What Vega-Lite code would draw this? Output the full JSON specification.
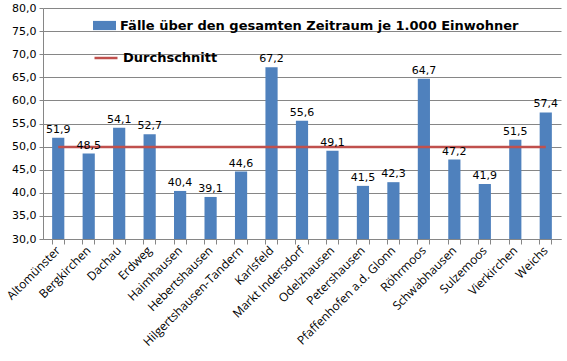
{
  "$schema": "https://vega.github.io/schema/vega-lite/v6.json",
  "width": 518,
  "height": 231,
  "autosize": "none",
  "padding": {"left": 43, "top": 8, "right": 6, "bottom": 122},
  "background": "white",
  "config": {
    "view": {"stroke": null},
    "locale": {"number": {"decimal": ",", "thousands": ".", "grouping": [3], "currency": ["", " €"]}},
    "axis": {"domainColor": "#868686", "tickColor": "#868686", "gridColor": "#868686", "labelColor": "black"}
  },
  "data": {
    "values": [
      {"Gemeinde": "Altomünster", "Faelle": 51.9, "Durchschnitt": 49.9},
      {"Gemeinde": "Bergkirchen", "Faelle": 48.5, "Durchschnitt": 49.9},
      {"Gemeinde": "Dachau", "Faelle": 54.1, "Durchschnitt": 49.9},
      {"Gemeinde": "Erdweg", "Faelle": 52.7, "Durchschnitt": 49.9},
      {"Gemeinde": "Haimhausen", "Faelle": 40.4, "Durchschnitt": 49.9},
      {"Gemeinde": "Hebertshausen", "Faelle": 39.1, "Durchschnitt": 49.9},
      {"Gemeinde": "Hilgertshausen-Tandern", "Faelle": 44.6, "Durchschnitt": 49.9},
      {"Gemeinde": "Karlsfeld", "Faelle": 67.2, "Durchschnitt": 49.9},
      {"Gemeinde": "Markt Indersdorf", "Faelle": 55.6, "Durchschnitt": 49.9},
      {"Gemeinde": "Odelzhausen", "Faelle": 49.1, "Durchschnitt": 49.9},
      {"Gemeinde": "Petershausen", "Faelle": 41.5, "Durchschnitt": 49.9},
      {"Gemeinde": "Pfaffenhofen a.d. Glonn", "Faelle": 42.3, "Durchschnitt": 49.9},
      {"Gemeinde": "Röhrmoos", "Faelle": 64.7, "Durchschnitt": 49.9},
      {"Gemeinde": "Schwabhausen", "Faelle": 47.2, "Durchschnitt": 49.9},
      {"Gemeinde": "Sulzemoos", "Faelle": 41.9, "Durchschnitt": 49.9},
      {"Gemeinde": "Vierkirchen", "Faelle": 51.5, "Durchschnitt": 49.9},
      {"Gemeinde": "Weichs", "Faelle": 57.4, "Durchschnitt": 49.9}
    ]
  },
  "resolve": {"axis": {"x": "independent"}},
  "layer": [
    {
      "mark": {"type": "bar"},
      "encoding": {
        "x": {
          "field": "Gemeinde", "type": "nominal", "sort": null,
          "scale": {"paddingInner": 0.6, "paddingOuter": 0.3},
          "axis": {"orient": "bottom", "title": null, "labelAngle": -45, "labelAlign": "right", "labelBaseline": "middle", "labelPadding": 9, "ticks": false, "labelFont": "Open Sans", "labelFontSize": 12, "labelLimit": 0, "labelOverlap": false}
        },
        "y": {
          "field": "Faelle", "type": "quantitative",
          "scale": {"domain": [30, 80], "nice": false, "zero": false},
          "axis": {"values": [30, 35, 40, 45, 50, 55, 60, 65, 70, 75, 80], "tickCount": 11, "format": ".1f", "labelFont": "DejaVu Sans", "labelFontSize": 11, "tickSize": 4, "labelPadding": 3, "grid": true, "labelOverlap": false, "title": null}
        },
        "y2": {"datum": 30},
        "fill": {
          "datum": "Fälle über den gesamten Zeitraum je 1.000 Einwohner",
          "scale": {"range": ["#4F81BD"]},
          "legend": {"orient": "none", "legendX": 50, "legendY": 6, "title": null, "symbolType": "M-1,-0.4H1V0.4H-1Z", "symbolSize": 529, "symbolStrokeWidth": 0, "labelFont": "DejaVu Sans", "labelFontWeight": "bold", "labelFontSize": 13, "labelLimit": 0, "labelOffset": 4, "padding": 0}
        }
      }
    },
    {
      "mark": {"type": "line", "strokeWidth": 2.5},
      "encoding": {
        "x": {
          "field": "Gemeinde", "type": "nominal", "sort": null,
          "axis": {"orient": "bottom", "title": null, "labels": false, "domain": false, "ticks": true, "bandPosition": 0, "tickSize": 5}
        },
        "y": {"field": "Durchschnitt", "type": "quantitative",
          "axis": {"values": [30, 35, 40, 45, 50, 55, 60, 65, 70, 75, 80], "tickCount": 11, "format": ".1f", "labelFont": "DejaVu Sans", "labelFontSize": 11, "tickSize": 4, "labelPadding": 3, "grid": true, "labelOverlap": false, "title": null}},
        "stroke": {
          "datum": "Durchschnitt",
          "scale": {"range": ["#C0504D"]},
          "legend": {"orient": "none", "legendX": 50, "legendY": 37, "title": null, "symbolType": "stroke", "symbolSize": 529, "symbolStrokeWidth": 2.5, "labelFont": "DejaVu Sans", "labelFontWeight": "bold", "labelFontSize": 13, "labelLimit": 0, "labelOffset": 4, "padding": 0}
        }
      }
    },
    {
      "mark": {"type": "text", "baseline": "bottom", "dy": -3, "font": "DejaVu Sans", "fontSize": 11, "color": "black"},
      "encoding": {
        "x": {
          "field": "Gemeinde", "type": "nominal", "sort": null,
          "axis": {"orient": "bottom", "title": null, "labels": false, "domain": false, "ticks": true, "bandPosition": 1, "tickSize": 5}
        },
        "y": {"field": "Faelle", "type": "quantitative",
          "axis": {"values": [30, 35, 40, 45, 50, 55, 60, 65, 70, 75, 80], "tickCount": 11, "format": ".1f", "labelFont": "DejaVu Sans", "labelFontSize": 11, "tickSize": 4, "labelPadding": 3, "grid": true, "labelOverlap": false, "title": null}},
        "text": {"field": "Faelle", "type": "quantitative", "format": ".1f"}
      }
    }
  ]
}
